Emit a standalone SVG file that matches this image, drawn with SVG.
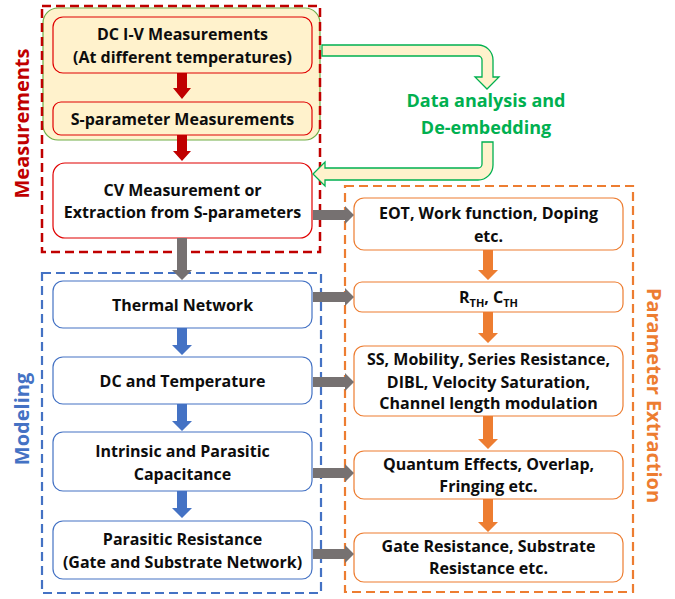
<svg xmlns="http://www.w3.org/2000/svg" width="675" height="599" viewBox="0 0 675 599">
<style>
text{font-family:"Open Sans","Liberation Sans",sans-serif;font-weight:700;font-size:16px;fill:#0d0d0d;text-anchor:middle}
.side{font-size:20px}
.rnode{fill:#FFF2CC;stroke:#E00000;stroke-width:1.2}
.rnodew{fill:#fff;stroke:#E00000;stroke-width:1.2}
.bnode{fill:#fff;stroke:#4472C4;stroke-width:1.2}
.onode{fill:#fff;stroke:#ED7D31;stroke-width:1.2}
.ra{fill:#C00000}.ga{fill:#767171}.ba{fill:#4472C4}.oa{fill:#ED7D31}
.green{fill:#FFF2CC;stroke:#00B050;stroke-width:1.3}
</style>
<rect x="0" y="0" width="675" height="599" fill="#fff"/>
<g id="containers">
<rect x="43" y="8" width="277" height="132" rx="15" fill="#FFF2CC" stroke="#70AD47" stroke-width="1.2"/>
<rect x="42" y="6" width="278" height="246" fill="none" stroke="#C00000" stroke-width="2.5" stroke-dasharray="9,5"/>
<rect x="42" y="273" width="279" height="320" fill="none" stroke="#4472C4" stroke-width="2.2" stroke-dasharray="9,5"/>
<rect x="345" y="186" width="288" height="406" fill="none" stroke="#ED7D31" stroke-width="2.2" stroke-dasharray="9,5"/>
<text class="side" transform="translate(29,123.5) rotate(-90)" style="fill:#C00000">Measurements</text>
<text class="side" transform="translate(29,419) rotate(-90)" style="fill:#4472C4">Modeling</text>
<text class="side" transform="translate(647,395.5) rotate(90)" style="fill:#ED7D31">Parameter Extraction</text>
</g>
<g id="n-dciv"><rect class="rnode" x="53" y="17" width="259" height="56" rx="10"/><text x="182.5" y="40">DC I-V Measurements</text><text x="182.5" y="63">(At different temperatures)</text></g>
<g id="n-sparam"><rect class="rnode" x="53" y="102" width="259" height="33" rx="8"/><text x="182.5" y="125">S-parameter Measurements</text></g>
<g id="n-cv"><rect class="rnodew" x="53" y="163" width="259" height="75" rx="12"/><text x="182.5" y="196">CV Measurement or</text><text x="182.5" y="218">Extraction from S-parameters</text></g>
<g id="n-data"><text x="486" y="107" style="fill:#00B050;font-size:18px">Data analysis and</text><text x="486" y="134" style="fill:#00B050;font-size:18px">De-embedding</text></g>
<g id="n-thermal"><rect class="bnode" x="53" y="281" width="259" height="47" rx="10"/><text x="182.5" y="311">Thermal Network</text></g>
<g id="n-dct"><rect class="bnode" x="53" y="357" width="259" height="47" rx="10"/><text x="182.5" y="387">DC and Temperature</text></g>
<g id="n-intr"><rect class="bnode" x="53" y="432" width="259" height="59" rx="10"/><text x="182.5" y="457">Intrinsic and Parasitic</text><text x="182.5" y="480">Capacitance</text></g>
<g id="n-para"><rect class="bnode" x="53" y="521" width="259" height="58" rx="10"/><text x="182.5" y="545">Parasitic Resistance</text><text x="182.5" y="568">(Gate and Substrate Network)</text></g>
<g id="n-eot"><rect class="onode" x="354" y="198" width="269" height="52" rx="10"/><text x="488.5" y="219">EOT, Work function, Doping</text><text x="488.5" y="242">etc.</text></g>
<g id="n-rth"><rect class="onode" x="354" y="282" width="269" height="30" rx="8"/><text x="488.5" y="303">R<tspan dy="4" font-size="11">TH</tspan><tspan dy="-4">, C</tspan><tspan dy="4" font-size="11">TH</tspan></text></g>
<g id="n-ss"><rect class="onode" x="354" y="346" width="269" height="70" rx="10"/><text x="488.5" y="365">SS, Mobility, Series Resistance,</text><text x="488.5" y="388">DIBL, Velocity Saturation,</text><text x="488.5" y="409">Channel length modulation</text></g>
<g id="n-qe"><rect class="onode" x="354" y="451" width="269" height="48" rx="10"/><text x="488.5" y="470">Quantum Effects, Overlap,</text><text x="488.5" y="492">Fringing etc.</text></g>
<g id="n-gate"><rect class="onode" x="354" y="533" width="269" height="49" rx="10"/><text x="488.5" y="552">Gate Resistance, Substrate</text><text x="488.5" y="574">Resistance etc.</text></g>
<g id="connectors">
<path class="green" d="M322,45 H478 A15,15 0 0 1 493,60 V77 H499 L487,89 L475,77 H482 V60 A4,4 0 0 0 478,56 H322 Z"/>
<path class="green" d="M482,142 H493 V165 A15,15 0 0 1 478,180 H325 V186 L313,174 L325,162 V168 H478 A4,4 0 0 0 482,164 Z"/>
<polygon class="ra" points="177,73 187,73 187,88 191,88 182,99 173,88 177,88"/>
<polygon class="ra" points="177,135 187,135 187,151 191,151 182,161 173,151 177,151"/>
<polygon class="ga" points="177,238 187,238 187,270 192,270 182,280 172,270 177,270"/>
<polygon class="ba" points="177,328 187,328 187,345 192,345 182,355 172,345 177,345"/>
<polygon class="ba" points="177,404 187,404 187,421 192,421 182,431 172,421 177,421"/>
<polygon class="ba" points="177,491 187,491 187,508 192,508 182,518 172,508 177,508"/>
<polygon class="oa" points="483,250 493,250 493,270 498,270 488,280 478,270 483,270"/>
<polygon class="oa" points="483,312 493,312 493,333 498,333 488,343 478,333 483,333"/>
<polygon class="oa" points="483,416 493,416 493,439 498,439 488,449 478,439 483,439"/>
<polygon class="oa" points="483,499 493,499 493,522 498,522 488,532 478,522 483,522"/>
<polygon class="ga" points="313,210 345,210 345,206 354,215 345,224 345,220 313,220"/>
<polygon class="ga" points="313,292 345,292 345,288 354,297 345,306 345,302 313,302"/>
<polygon class="ga" points="313,377 345,377 345,373 354,382 345,391 345,387 313,387"/>
<polygon class="ga" points="313,468 345,468 345,464 354,473 345,482 345,478 313,478"/>
<polygon class="ga" points="313,549 345,549 345,545 354,554 345,563 345,559 313,559"/>
</g>
</svg>
